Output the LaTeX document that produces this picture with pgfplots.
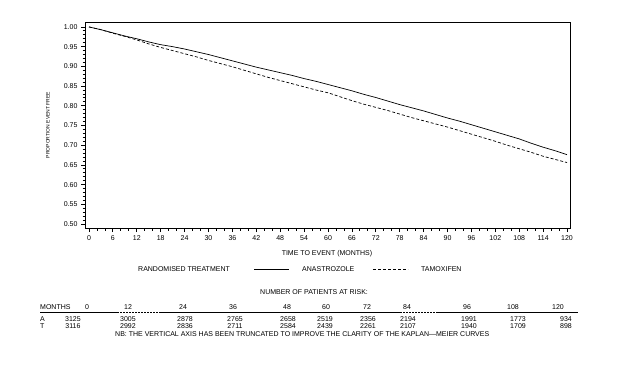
\documentclass[border=0pt]{standalone}
\usepackage{pgfplots}
\pgfplotsset{compat=1.18}
\usepackage{fontspec}
\setmainfont{Liberation Sans}
\begin{document}
\begin{tikzpicture}[x=1pt,y=1pt]
\path[use as bounding box] (0,0) rectangle (631,368);
\begin{axis}[
  at={(85pt,140pt)}, anchor=south west,
  scale only axis, width=485pt, height=206pt,
  xmin=-1, xmax=120.75, ymin=0.49, ymax=1.0125,
  xtick={0,6,...,120}, minor x tick num=2,
  ytick={0.50,0.55,0.60,0.65,0.70,0.75,0.80,0.85,0.90,0.95,1.00},
  minor y tick num=4,
  tick align=outside, tick pos=left,
  major tick length=4pt, minor tick length=2.5pt,
  axis line style={line width=1pt},
  every tick/.style={line width=0.8pt, black},
  ticklabel style={font=\fontsize{7}{8}\selectfont},
  yticklabel style={/pgf/number format/.cd, fixed, fixed zerofill, precision=2},
  /pgf/number format/assume math mode=true,
  clip=false,
]
\addplot[black, line width=0.7pt] coordinates {
(0,1.000)(3,0.993)(6,0.985)(9,0.977)(12,0.970)(15,0.962)(18,0.955)(21,0.950)(24,0.944)(27,0.937)(30,0.930)(33,0.922)(36,0.914)(39,0.906)(42,0.898)(45,0.891)(48,0.884)(51,0.877)(54,0.869)(57,0.862)(60,0.854)(63,0.846)(66,0.838)(69,0.829)(72,0.821)(75,0.812)(78,0.803)(81,0.795)(84,0.787)(87,0.778)(90,0.769)(93,0.761)(96,0.752)(99,0.743)(102,0.734)(105,0.725)(108,0.716)(111,0.705)(114,0.695)(117,0.686)(120,0.676)
};
\addplot[black, line width=0.7pt, dash pattern=on 3pt off 2pt] coordinates {
(0,1.000)(3,0.993)(6,0.984)(9,0.976)(12,0.967)(15,0.957)(18,0.948)(21,0.940)(24,0.932)(27,0.924)(30,0.915)(33,0.907)(36,0.899)(39,0.890)(42,0.881)(45,0.872)(48,0.864)(51,0.856)(54,0.848)(57,0.840)(60,0.833)(63,0.823)(66,0.813)(69,0.804)(72,0.796)(75,0.788)(78,0.779)(81,0.770)(84,0.762)(87,0.754)(90,0.746)(93,0.737)(96,0.728)(99,0.719)(102,0.710)(105,0.700)(108,0.691)(111,0.682)(114,0.672)(117,0.664)(120,0.656)
};
\end{axis}
\begin{scope}[every node/.style={font=\fontsize{7}{8}\selectfont, inner sep=0pt}]
% y label
\node[rotate=90, font=\fontsize{5}{6}\selectfont] at (48,243) {PROPORTION EVENT FREE};
% x label
\node at (327,114) {TIME TO EVENT (MONTHS)};
% legend
\node[anchor=west] at (138,99) {RANDOMISED TREATMENT};
\draw[line width=0.7pt] (254,99) -- (289,99);
\node[anchor=west] at (302,99) {ANASTROZOLE};
\draw[line width=0.7pt, dash pattern=on 3pt off 2pt] (373,99) -- (408,99);
\node[anchor=west] at (421,99) {TAMOXIFEN};
% risk table
\node[anchor=west] at (260,76) {NUMBER OF PATIENTS AT RISK:};
\node[anchor=west] at (40,61) {MONTHS};
\foreach \x/\t in {87/0,128/12,183/24,233/36,287/48,326/60,367/72,407/84,467/96,513/108,558/120}
  \node at (\x,61) {\t};
\draw[line width=0.8pt] (40,56) -- (117,56);
\draw[line width=0.8pt, dash pattern=on 2pt off 1pt] (117,56) -- (160,56);
\draw[line width=0.8pt] (160,56) -- (400,56);
\draw[line width=0.8pt, dash pattern=on 2pt off 1pt] (400,56) -- (437,56);
\draw[line width=0.8pt] (437,56) -- (578,56);
\node[anchor=west] at (40,49) {A};
\node[anchor=west] at (40,42) {T};
\foreach \x/\a/\b in {73/3125/3116,128/3005/2992,185/2878/2836,235/2765/2711,288/2658/2584,325/2519/2439,368/2356/2261,408/2194/2107,469/1991/1940,518/1773/1709,566/934/898}{
  \node at (\x,49) {\a};
  \node at (\x,42) {\b};
}
\node[anchor=west] at (115,34) {NB: THE VERTICAL AXIS HAS BEEN TRUNCATED TO IMPROVE THE CLARITY OF THE KAPLAN---MEIER CURVES};
\end{scope}
\end{tikzpicture}
\end{document}
